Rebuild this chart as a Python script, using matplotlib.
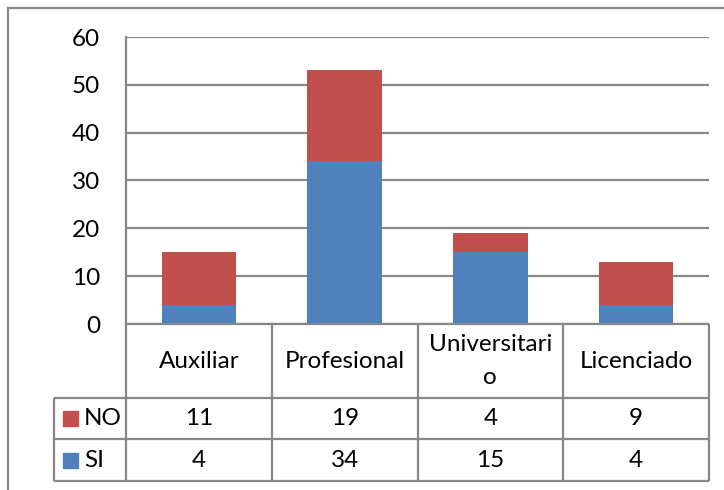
import matplotlib
matplotlib.use("Agg")
import matplotlib.pyplot as plt
from matplotlib.patches import Rectangle

categories = ["Auxiliar", "Profesional", "Universitari\no", "Licenciado"]
series_names = ["NO", "SI"]
si_values = [4, 34, 15, 4]
no_values = [11, 19, 4, 9]
y_ticks = [0, 10, 20, 30, 40, 50, 60]

BLUE = "#4F81BD"
RED = "#C0504D"
GRID = "#878787"
TEXT = "#000000"

W, H = 724, 490
fig = plt.figure(figsize=(W / 100, H / 100), dpi=100)
plt.rcParams["font.family"] = ["Lato", "DejaVu Sans"]
FS = 17.5

# plot area in pixel coordinates
px_left, px_right, px_top, px_bottom = 126, 709, 37, 324
ax = fig.add_axes([px_left / W, 1 - px_bottom / H,
                   (px_right - px_left) / W, (px_bottom - px_top) / H])
n = len(categories)
x = list(range(n))
ax.bar(x, si_values, width=0.51, color=BLUE, zorder=3)
ax.bar(x, no_values, width=0.51, bottom=si_values, color=RED, zorder=3)
ax.set_xlim(-0.5, n - 0.5)
ax.set_ylim(0, 60)
ax.set_yticks(y_ticks)
ax.set_yticklabels([str(t) for t in y_ticks], fontsize=FS, color=TEXT)
ax.tick_params(axis="y", length=0, pad=18.5)
ax.set_xticks([])
for t in y_ticks:
    ax.axhline(t, color=GRID, lw=1.6, zorder=1)
for s in ["top", "right", "bottom"]:
    ax.spines[s].set_visible(False)
ax.spines["left"].set_color(GRID)
ax.spines["left"].set_linewidth(1.6)

# overlay for the data table and chart border, in pixel units
ov = fig.add_axes([0, 0, 1, 1], zorder=5)
ov.set_xlim(0, W)
ov.set_ylim(H, 0)
ov.axis("off")
ov.patch.set_alpha(0)

# chart frame
ov.plot([8, W], [8, 8], color="#8a8a8a", lw=1.6)
ov.plot([8, 8], [8, H], color="#8a8a8a", lw=1.6)

col_w = (px_right - px_left) / n
cols = [px_left + i * col_w for i in range(n + 1)]
row_head_bottom = 398
row_no_bottom = 439
row_si_bottom = 481
legend_left = 54

lkw = dict(color=GRID, lw=1.6, solid_capstyle="butt")
for cx in cols:
    ov.plot([cx, cx], [px_bottom, row_si_bottom], **lkw)
ov.plot([px_left, px_right], [px_bottom, px_bottom], **lkw)
for yy in [row_head_bottom, row_no_bottom, row_si_bottom]:
    ov.plot([legend_left, px_right], [yy, yy], **lkw)
ov.plot([legend_left, legend_left], [row_head_bottom, row_si_bottom], **lkw)

# header labels
for i, cat in enumerate(categories):
    cx = (cols[i] + cols[i + 1]) / 2
    ov.text(cx, (px_bottom + row_head_bottom) / 2, cat, ha="center",
            va="center", fontsize=FS, color=TEXT, linespacing=1.75)

# data rows
rows = [(series_names[0], no_values, RED, row_head_bottom, row_no_bottom),
        (series_names[1], si_values, BLUE, row_no_bottom, row_si_bottom)]
for name, vals, colr, top, bot in rows:
    cy = (top + bot) / 2
    ov.add_patch(Rectangle((63, cy - 7.5), 15, 15, color=colr))
    ov.text(84, cy, name, ha="left", va="center", fontsize=FS, color=TEXT)
    for i, v in enumerate(vals):
        cx = (cols[i] + cols[i + 1]) / 2
        ov.text(cx, cy, str(v), ha="center", va="center", fontsize=FS, color=TEXT)

fig.savefig("out.png", dpi=100, facecolor="white")
